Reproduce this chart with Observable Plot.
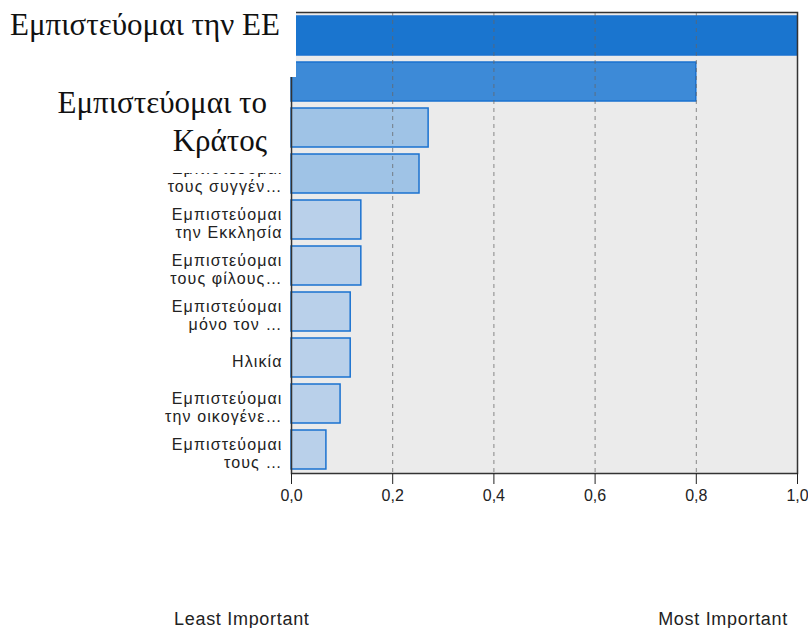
<!DOCTYPE html>
<html>
<head>
<meta charset="utf-8">
<script src="https://cdn.jsdelivr.net/npm/d3@7"></script>
<script src="https://cdn.jsdelivr.net/npm/@observablehq/plot@0.6"></script>
<style>
  html, body { margin: 0; padding: 0; background: white; }
  #wrap { position: relative; width: 808px; height: 628px; overflow: hidden; }
  .cover { position: absolute; background: white; }
  .big { position: absolute; font-family: "Liberation Serif", "DejaVu Serif", serif; font-size: 31px; color: #111; white-space: nowrap; }
  .foot { position: absolute; font-family: "Liberation Sans", Arial, sans-serif; font-size: 18px; line-height: 18px; color: #222; white-space: nowrap; letter-spacing: 0.7px; }
  g[aria-label="y-axis tick label"] text { letter-spacing: 1.1px; }
</style>
</head>
<body>
<div id="wrap"></div>
<script>
// Predictor importance (top = most important)
const labels = [
  "Εμπιστεύομαι\nτην ΕΕ",
  "Εμπιστεύομαι\nτο Κράτος",
  "Εμπιστεύομαι\n…",
  "Εμπιστεύομαι\nτους συγγέν…",
  "Εμπιστεύομαι\nτην Εκκλησία",
  "Εμπιστεύομαι\nτους φίλους…",
  "Εμπιστεύομαι\nμόνο τον …",
  "Ηλικία",
  "Εμπιστεύομαι\nτην οικογένε…",
  "Εμπιστεύομαι\nτους …"
];
const importance = [1.0, 0.80, 0.271, 0.253, 0.138, 0.138, 0.117, 0.117, 0.097, 0.069];
const xTicks = [0, 0.2, 0.4, 0.6, 0.8, 1.0];
const gridTicks = [0.2, 0.4, 0.6, 0.8];
const overlayTop = "Εμπιστεύομαι την ΕΕ";
const overlayMid = ["Εμπιστεύομαι το", "Κράτος"];
const footLeft = "Least Important";
const footRight = "Most Important";

const data = labels.map((label, i) => ({label, value: importance[i]}));

const chart = Plot.plot({
  width: 808,
  height: 628,
  marginLeft: 291,
  marginRight: 11,
  marginTop: 12,
  marginBottom: 155,
  style: {fontFamily: "'Liberation Sans', Arial, sans-serif", fontSize: "16px", color: "#222", background: "white", overflow: "visible"},
  x: {domain: [0, 1]},
  y: {domain: labels, paddingInner: 0.16, paddingOuter: 0.06},
  color: {type: "threshold", domain: [0.15, 0.5, 0.9], range: ["#b9d0ea", "#9fc3e6", "#3d8ad7", "#1a75cf"]},
  marks: [
    Plot.frame({fill: "#ebebeb"}),
    Plot.barX(data, {x: "value", y: "label", fill: "value", stroke: "#1a72d0", strokeWidth: 1.5}),
    Plot.gridX(gridTicks, {stroke: "#666", strokeOpacity: 0.75, strokeDasharray: "4,4"}),
    Plot.frame({stroke: "#333", strokeWidth: 1.5}),
    Plot.axisX(xTicks, {tickSize: 11, tickPadding: 5, tickFormat: d => d.toFixed(1).replace(".", ","), fontSize: 16, stroke: "#222", label: null}),
    Plot.axisY({tickSize: 0, tickPadding: 9, fontSize: 16, lineHeight: 1.12, dy: 3, label: null})
  ]
});

const wrap = document.getElementById("wrap");
wrap.appendChild(chart);

function addDiv(cls, css, text) {
  const d = document.createElement("div");
  d.className = cls;
  Object.assign(d.style, css);
  if (text != null) d.textContent = text;
  wrap.appendChild(d);
  return d;
}
addDiv("cover", {left: "0px", top: "0px", width: "296px", height: "77px"});
addDiv("big", {left: "10px", top: "9px", lineHeight: "31px"}, overlayTop);
addDiv("cover", {left: "0px", top: "77px", width: "289px", height: "96px"});
const mid = addDiv("big", {right: "541px", top: "84px", lineHeight: "38px", textAlign: "right"});
mid.innerHTML = overlayMid.join("<br>");
addDiv("foot", {left: "174px", top: "610px"}, footLeft);
addDiv("foot", {right: "20px", top: "610px"}, footRight);
</script>
</body>
</html>
